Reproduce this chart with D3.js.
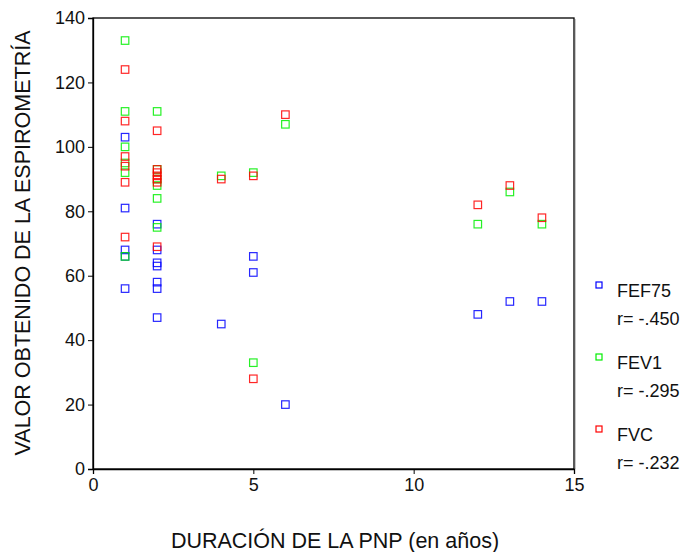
<!DOCTYPE html>
<html>
<head>
<meta charset="utf-8">
<script src="https://cdn.jsdelivr.net/npm/d3@7"></script>
<style>
  html, body { margin: 0; padding: 0; background: #fff; }
  svg { display: block; font-family: "Liberation Sans", Arial, sans-serif; }
</style>
</head>
<body>
<svg id="chart" width="682" height="552"></svg>
<script>
// Duration of PNP (years) and spirometry results per patient
const fef75X = [1, 1, 1, 1, 1, 2, 2, 2, 2, 2, 2, 2, 4, 5, 5, 6, 12, 13, 14];
const fef75Y = [103, 81, 68, 66, 56, 76, 68, 64, 63, 58, 56, 47, 45, 66, 61, 20, 48, 52, 52];

const fev1X = [1, 1, 1, 1, 1, 1, 2, 2, 2, 2, 2, 2, 4, 5, 5, 6, 12, 13, 14];
const fev1Y = [133, 111, 100, 95, 92, 66, 111, 93, 90, 88, 84, 75, 91, 92, 33, 107, 76, 86, 76];

const fvcX = [1, 1, 1, 1, 1, 1, 2, 2, 2, 2, 2, 2, 2, 4, 5, 5, 6, 12, 13, 14];
const fvcY = [124, 108, 97, 94, 89, 72, 105, 93, 92, 91, 90, 89, 69, 90, 91, 28, 110, 82, 88, 78];

const seriesNames = ["FEF75", "FEV1", "FVC"];
const seriesR = ["r= -.450", "r= -.295", "r= -.232"];
const seriesColors = ["#0000ff", "#00ee00", "#ff0000"];

const xTicks = [0, 5, 10, 15];
const yTicks = [0, 20, 40, 60, 80, 100, 120, 140];

const series = [
  { xs: fef75X, ys: fef75Y },
  { xs: fev1X, ys: fev1Y },
  { xs: fvcX, ys: fvcY }
];

const svg = d3.select("#chart");
const plotL = 93, plotR = 574, plotT = 18, plotB = 469;

const x = d3.scaleLinear().domain([0, 15]).range([plotL, plotR]);
const y = d3.scaleLinear().domain([0, 140]).range([plotB, plotT]);

// frame (top and right edges, with a faint shadow on the right)
svg.append("line").attr("x1", plotR + 1.5).attr("x2", plotR + 1.5)
  .attr("y1", plotT + 1).attr("y2", plotB).attr("stroke", "#c8c8c8").attr("stroke-width", 1);
svg.append("rect").attr("x", plotL).attr("y", plotT)
  .attr("width", plotR - plotL).attr("height", plotB - plotT)
  .attr("fill", "none").attr("stroke", "#000").attr("stroke-width", 1.3);

// axes
const xAxis = svg.append("g").attr("transform", `translate(0,${plotB})`)
  .call(d3.axisBottom(x).tickValues(xTicks).tickSize(5).tickPadding(4).tickFormat(d3.format("d")));
const yAxis = svg.append("g").attr("transform", `translate(${plotL},0)`)
  .call(d3.axisLeft(y).tickValues(yTicks).tickSize(5).tickPadding(3).tickFormat(d3.format("d")));
[xAxis, yAxis].forEach(g => {
  g.select(".domain").attr("stroke", "#000").attr("stroke-width", 1.3);
  g.selectAll(".tick line").attr("stroke", "#000").attr("stroke-width", 1);
  g.selectAll(".tick text").attr("fill", "#111").style("font-size", "18px")
    .style("font-family", "'Liberation Sans', Arial, sans-serif");
});

// markers
const size = 7.5;
series.forEach((s, i) => {
  svg.append("g").selectAll("rect")
    .data(s.xs.map((d, j) => [d, s.ys[j]]))
    .join("rect")
    .attr("x", d => x(d[0]) - size / 2)
    .attr("y", d => y(d[1]) - size / 2)
    .attr("width", size).attr("height", size)
    .attr("fill", "none")
    .attr("stroke", seriesColors[i])
    .attr("stroke-width", 1.2)
    .attr("stroke-opacity", 0.85);
});

// axis titles
svg.append("text")
  .attr("transform", `translate(30,243) rotate(-90)`)
  .attr("text-anchor", "middle")
  .style("font-size", "21.5px").attr("fill", "#111")
  .text("VALOR OBTENIDO DE LA ESPIROMETRÍA");
svg.append("text")
  .attr("x", 335).attr("y", 548)
  .attr("text-anchor", "middle")
  .style("font-size", "21.5px").attr("fill", "#111")
  .text("DURACIÓN DE LA PNP (en años)");

// legend
const legendY = [285, 357, 429];
seriesNames.forEach((name, i) => {
  const ly = legendY[i];
  svg.append("rect")
    .attr("x", 599 - 3).attr("y", ly - 3).attr("width", 6).attr("height", 6)
    .attr("fill", "none").attr("stroke", seriesColors[i]).attr("stroke-width", 1.2);
  svg.append("text").attr("x", 617).attr("y", ly + 12)
    .style("font-size", "18px").attr("fill", "#111").text(name);
  svg.append("text").attr("x", 617).attr("y", ly + 40)
    .style("font-size", "18px").attr("fill", "#111").text(seriesR[i]);
});
</script>
</body>
</html>
